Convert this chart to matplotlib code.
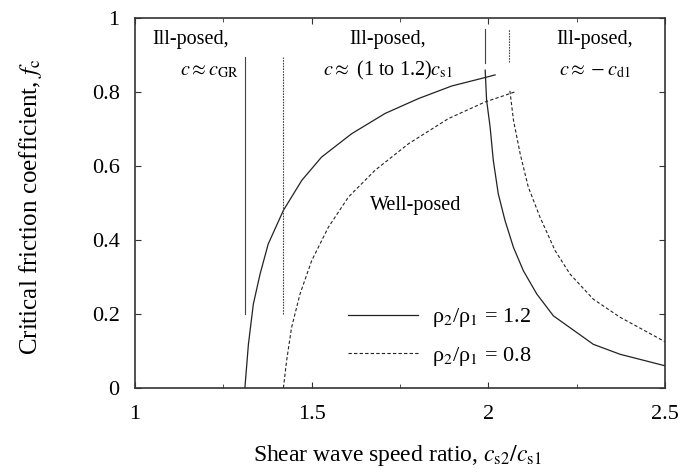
import matplotlib.pyplot as plt
import numpy as np

plt.rcParams['font.family'] = ['Liberation Serif', 'DejaVu Serif']
plt.rcParams['mathtext.fontset'] = 'stix'

# rho2/rho1 = 1.2 (solid)
solid_left_x = [1.311, 1.321, 1.335, 1.354, 1.377, 1.420, 1.472, 1.528, 1.613, 1.708,
                1.802, 1.896, 1.991, 2.019]
solid_left_y = [0.0, 0.118, 0.227, 0.308, 0.389, 0.480, 0.561, 0.624, 0.687, 0.742,
                0.782, 0.816, 0.839, 0.846]
solid_right_x = [1.991, 1.995, 2.005, 2.014, 2.028, 2.047, 2.071, 2.099, 2.137, 2.184,
                 2.231, 2.297, 2.373, 2.5]
solid_right_y = [0.859, 0.778, 0.705, 0.615, 0.525, 0.453, 0.380, 0.317, 0.254, 0.195,
                 0.163, 0.118, 0.091, 0.060]

# rho2/rho1 = 0.8 (dashed)
dash_left_x = [1.420, 1.429, 1.443, 1.467, 1.500, 1.547, 1.604, 1.679, 1.774, 1.887,
               1.991, 2.075]
dash_left_y = [0.0, 0.073, 0.163, 0.254, 0.344, 0.434, 0.516, 0.588, 0.660, 0.728,
               0.773, 0.800]
dash_right_x = [2.061, 2.071, 2.090, 2.113, 2.146, 2.189, 2.231, 2.297, 2.373, 2.5]
dash_right_y = [0.803, 0.724, 0.633, 0.543, 0.462, 0.371, 0.308, 0.240, 0.191, 0.125]

# boundary markers (x, y_bottom, y_top)
vlines_solid = [(1.311, 0.2, 0.895), (1.99, 0.878, 0.97)]
vlines_dash = [(1.420, 0.2, 0.895), (2.059, 0.88, 0.97)]

fig = plt.figure(figsize=(6.8, 4.72), dpi=100)
ax = fig.add_axes([0.1985, 0.178, 0.7795, 0.784])

col = '#222222'
dash = (0, (3, 2))
ax.plot(solid_left_x, solid_left_y, color=col, lw=0.9, label='ρ$_2$/ρ$_1$ = 1.2')
ax.plot(solid_right_x, solid_right_y, color=col, lw=0.9)
ax.plot(dash_left_x, dash_left_y, color=col, lw=0.8, ls=dash, label='ρ$_2$/ρ$_1$ = 0.8')
ax.plot(dash_right_x, dash_right_y, color=col, lw=0.8, ls=dash)

for x, y0, y1 in vlines_solid:
    ax.plot([x, x], [y0, y1], color='#444444', lw=0.8)
for x, y0, y1 in vlines_dash:
    ax.plot([x, x], [y0, y1], color='#444444', lw=0.8, ls=(0, (1.5, 1)))

fs = 14.5
ax.text(1.05, 0.943, 'Ill-posed,', fontsize=fs, ha='left', va='center')
ax.text(1.293, 0.858, r'$c \approx c_{\rm GR}$', fontsize=fs, ha='right', va='center')
ax.text(1.715, 0.943, 'Ill-posed,', fontsize=fs, ha='center', va='center')
ax.text(1.715, 0.858, r'$c \approx$ (1 to 1.2)$c_{\rm s1}$', fontsize=fs, ha='center', va='center')
ax.text(2.3, 0.943, 'Ill-posed,', fontsize=fs, ha='center', va='center')
ax.text(2.3, 0.858, r'$c \approx -c_{\rm d1}$', fontsize=fs, ha='center', va='center')
ax.text(1.795, 0.493, 'Well-posed', fontsize=fs, ha='center', va='center')

ax.set_xlim(1, 2.5)
ax.set_ylim(0, 1)
ax.set_xticks([1, 1.5, 2, 2.5])
ax.set_xticklabels(['1', '1.5', '2', '2.5'])
ax.set_xticks([1.25, 1.75, 2.25], minor=True)
ax.set_yticks([0, 0.2, 0.4, 0.6, 0.8, 1])
ax.set_yticklabels(['0', '0.2', '0.4', '0.6', '0.8', '1'])
ax.tick_params(which='both', direction='in', top=True, right=True, colors='#333333',
               labelcolor='black', labelsize=16)
ax.tick_params(axis='x', which='major', length=4, pad=12)
ax.tick_params(axis='x', which='minor', length=3)
ax.tick_params(axis='y', which='major', length=4, pad=11)
for s in ax.spines.values():
    s.set_color('#333333')
    s.set_linewidth(1.2)

ax.set_xlabel(r'Shear wave speed ratio, $c_{\rm s2}/c_{\rm s1}$', fontsize=17)
ax.set_ylabel(r'Critical friction coefficient, $f_{\rm c}$', fontsize=18)
ax.xaxis.set_label_coords(0.494, -0.15)
ax.yaxis.set_label_coords(-0.172, 0.49)

ax.legend(loc='lower left', bbox_to_anchor=(0.385, 0.03), frameon=False, fontsize=16,
          handlelength=3.15, handletextpad=0.63, labelspacing=0.7, borderaxespad=0)

fig.savefig('out.png', dpi=100)
